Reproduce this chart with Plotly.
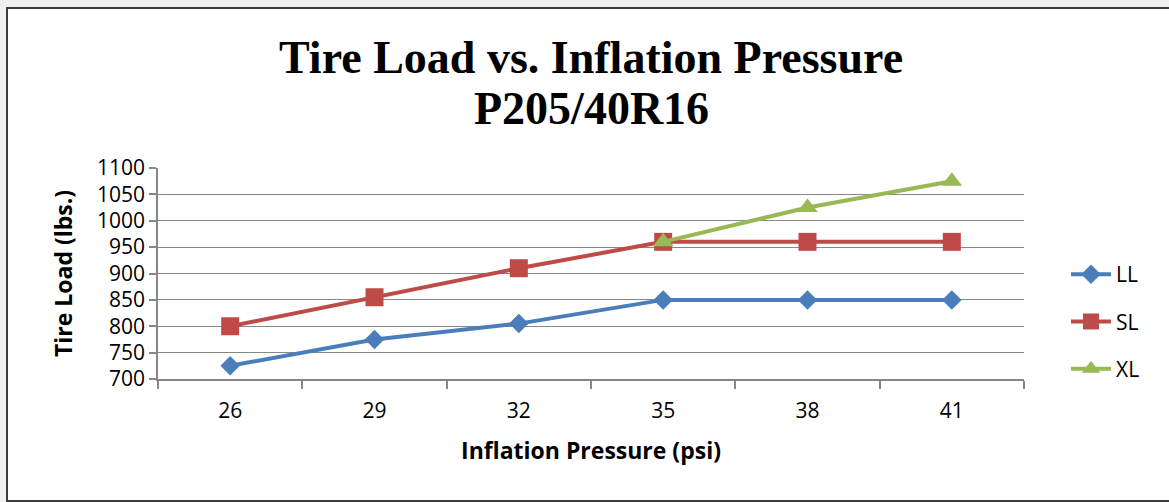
import plotly.graph_objects as go

# ---- data ----
pressures = ["26", "29", "32", "35", "38", "41"]
ll_load = [725, 775, 805, 850, 850, 850]
sl_load = [800, 855, 910, 960, 960, 960]
xl_load = [None, None, None, 960, 1025, 1075]
series_names = ["LL", "SL", "XL"]
y_ticks = [700, 750, 800, 850, 900, 950, 1000, 1050, 1100]

# ---- layout geometry (pixels) ----
W, H = 1169, 502
L, R, T, B = 158, 1024, 168, 379
pw, ph = R - L, B - T

def px(x):
    return (x - L) / pw

def py(y):
    return (B - y) / ph

BODY = "'Open Sans', Lato, sans-serif"
SERIF = "'Liberation Serif', 'Times New Roman', serif"

colors = ["#4A7EBB", "#BE4B48", "#98B954"]
symbols = ["diamond", "square", "triangle-up"]
sizes = [15, 18, 18]

fig = go.Figure()
for name, vals, c, s, sz in zip(series_names, [ll_load, sl_load, xl_load], colors, symbols, sizes):
    fig.add_trace(go.Scatter(
        x=pressures, y=vals, name=name, mode="lines+markers",
        line=dict(color=c, width=4),
        marker=dict(symbol=s, size=sz, color=c, line=dict(width=0)),
        legendgroup=name, connectgaps=False,
    ))

fig.update_layout(
    width=W, height=H,
    margin=dict(l=L, r=W - R, t=T, b=H - B),
    paper_bgcolor="#f0f0f0",
    plot_bgcolor="white",
    showlegend=True,
    legend=dict(
        x=px(1066), y=py(254), xanchor="left", yanchor="top",
        font=dict(family=BODY, size=21, color="black"),
        tracegroupgap=17, bgcolor="rgba(0,0,0,0)", itemwidth=40,
    ),
    xaxis=dict(
        type="category", range=[-0.5, 5.5],
        showline=True, linecolor="#868686", linewidth=1.5,
        ticks="outside", tickson="boundaries", ticklen=8, tickcolor="#868686", tickwidth=1.5,
        showgrid=False, zeroline=False,
        tickfont=dict(family=BODY, size=21, color="black"),
        ticklabelstandoff=12,
        title=dict(text="<b>Inflation Pressure (psi)</b>",
                   font=dict(family=BODY, size=23, color="black"), standoff=20),
    ),
    yaxis=dict(
        range=[700, 1100], tickvals=y_ticks,
        showline=True, linecolor="#868686", linewidth=1.5,
        ticks="outside", ticklen=7, tickcolor="#868686", tickwidth=1.5,
        showgrid=True, gridcolor="#888888", gridwidth=1.4, zeroline=False,
        tickfont=dict(family=BODY, size=21, color="black"),
        title=dict(text="<b>Tire Load (lbs.)</b>",
                   font=dict(family=BODY, size=23, color="black"), standoff=18),
    ),
    shapes=[
        dict(type="rect", xref="paper", yref="paper",
             x0=px(7), x1=px(1180), y0=py(501), y1=py(8),
             line=dict(color="#3c3c3c", width=2), fillcolor="white", layer="below"),
    ],
    annotations=[
        dict(text="<b>Tire Load vs. Inflation Pressure</b>", xref="paper", yref="paper",
             x=px(591), y=py(58), xanchor="center", yanchor="middle", showarrow=False,
             font=dict(family=SERIF, size=46, color="black")),
        dict(text="<b>P205/40R16</b>", xref="paper", yref="paper",
             x=px(591), y=py(108), xanchor="center", yanchor="middle", showarrow=False,
             font=dict(family=SERIF, size=46, color="black")),
    ],
)

fig.write_html("out.html", config={"displayModeBar": False},
               post_script="document.body.style.margin='0';")
